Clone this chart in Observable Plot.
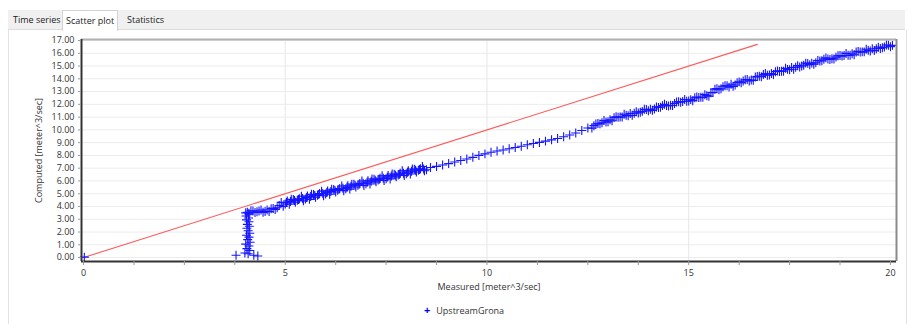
<!DOCTYPE html>
<html><head><meta charset="utf-8">
<script src="https://cdn.jsdelivr.net/npm/d3@7"></script>
<script src="https://cdn.jsdelivr.net/npm/@observablehq/plot@0.6"></script>
<style>
body{margin:0;width:914px;height:324px;background:#fff;font-family:"Open Sans",sans-serif;position:relative;overflow:hidden}
#strip{position:absolute;left:8px;top:10px;width:897px;height:19px;background:#f0f0f0;border-bottom:1px solid #dcdcdc}
.tab{position:absolute;top:12px;font-size:9px;color:#222;line-height:16px;padding:0 3px}
.tab.sel{top:10px;background:#fff;border:1px solid #d4d4d4;border-bottom:none;height:20px;line-height:20px}
#panel{position:absolute;left:8px;top:30px;width:897px;height:300px;border-left:1px solid #e2e2e2;border-right:1px solid #e2e2e2}
#chart{position:absolute;left:0;top:30px}
#legend{position:absolute;left:424px;top:302px;font-size:9px;color:#333;white-space:nowrap}
#legend .sym{color:#0000ff;font-size:11px;margin-right:6px;font-weight:bold}
</style></head>
<body>
<div id="strip"></div>
<div id="panel"></div>
<div class="tab" style="left:10px">Time series</div>
<div class="tab sel" style="left:62px">Scatter plot</div>
<div class="tab" style="left:124px">Statistics</div>
<div id="chart"></div>
<div id="legend"><span class="sym">+</span>UpstreamGrona</div>
<script>
// ---- data ----
const seriesName = "UpstreamGrona";
const measured = [
  0.02,
  3.78,4.32,4.22,4.0,4.08,4.12,4.05,4.1,4.02,4.13,4.07,4.1,4.04,4.12,4.08,4.05,4.11,4.06,4.1,4.04,4.09,4.03,4.1,4.02,4.06,
  4.1,4.2,4.3,4.4,4.5,4.6,4.7,4.8,4.9,5.0,5.1,5.2,5.3,5.4,5.5,5.6,5.7,5.8,5.9,6.0,6.1,6.2,6.3,6.4,6.5,6.6,6.7,6.8,6.9,7.0,7.1,7.2,7.3,7.4,7.5,7.6,7.7,7.8,7.9,8.0,8.1,8.2,8.3,8.4,8.5,
  4.15,4.25,4.35,4.45,4.55,4.65,4.75,4.85,4.95,5.05,5.15,5.25,5.35,5.45,5.55,5.65,5.75,5.85,5.95,6.05,6.15,6.25,6.35,6.45,6.55,6.65,6.75,6.85,6.95,7.05,7.15,7.25,7.35,7.45,7.55,7.65,7.75,7.85,7.95,8.05,8.15,8.25,8.35,8.45,
  5.03,5.13,5.23,5.33,5.43,5.53,5.63,5.73,5.83,5.93,6.03,6.13,6.23,6.33,6.43,6.53,6.63,6.73,6.83,6.93,7.03,7.13,7.23,7.33,7.43,7.53,7.63,7.73,7.83,7.93,8.03,8.13,8.23,8.33,8.43,
  8.6,8.75,8.9,9.05,9.2,9.35,9.5,9.65,9.8,9.95,10.1,10.25,10.4,10.55,10.7,10.85,11.0,11.15,11.3,11.45,11.6,11.75,11.9,12.05,12.2,12.35,12.5,
  12.6,12.7,12.8,12.9,13.0,13.1,13.2,13.3,13.4,13.5,13.6,13.7,13.8,13.9,14.0,14.1,14.2,14.3,14.4,14.5,14.6,14.7,14.8,14.9,15.0,15.1,15.2,15.3,15.4,15.5,
  15.6,15.7,15.8,15.9,16.0,16.1,16.2,16.3,16.4,16.5,16.6,16.7,16.8,16.9,17.0,17.1,17.2,17.3,17.4,17.5,17.6,17.7,17.8,17.9,18.0,18.1,18.2,18.3,18.4,18.5,
  18.6,18.7,18.8,18.9,19.0,19.1,19.2,19.3,19.4,19.5,19.6,19.7,19.8,19.9,20.0,20.05,
  12.65,12.85,13.05,13.25,13.45,13.65,13.85,14.05,14.25,14.45,14.65,14.85,15.05,15.25,15.45,15.65,15.85,16.05,16.25,16.45,16.65,16.85,17.05,17.25,17.45,17.65,17.85,18.05,18.25,18.45,18.65,18.85,19.05,19.25,19.45,19.65,19.85,
  12.75,12.95,13.15,13.35,13.55,13.75,13.95,14.15,14.35,14.55,14.75,14.95,15.15,15.35,15.55,15.75,15.95,16.15,16.35,16.55,16.75,16.95,17.15,17.35,17.55,17.75,17.95,18.15,18.35,18.55,18.75,18.95,19.15,19.35,19.55,19.75,19.95
];
const computed = [
  0.03,
  0.18,0.12,0.18,0.35,0.3,0.55,0.7,0.9,1.05,1.2,1.4,1.6,1.75,1.9,2.1,2.3,2.45,2.6,2.8,2.95,3.1,3.25,3.4,3.5,3.55,
  3.48,3.65,3.59,3.73,3.60,3.60,3.85,3.90,4.32,4.20,4.17,4.55,4.48,4.80,4.58,4.56,4.94,4.87,5.20,4.98,4.96,5.34,5.27,5.60,5.38,5.36,5.74,5.67,6.00,5.78,5.76,6.14,6.07,6.40,6.18,6.16,6.53,6.46,6.79,6.56,6.54,6.92,6.83,7.13,6.88,
  3.67,3.53,3.65,3.54,3.72,3.83,3.77,4.08,4.01,4.43,4.56,4.34,4.61,4.44,4.82,4.95,4.73,5.01,4.84,5.22,5.35,5.13,5.41,5.24,5.62,5.75,5.53,5.81,5.64,6.02,6.15,5.93,6.21,6.04,6.42,6.55,6.32,6.60,6.43,6.80,6.93,6.70,6.95,6.80,
  4.31,4.39,4.47,4.55,4.62,4.70,4.78,4.86,4.94,5.02,5.10,5.18,5.26,5.34,5.42,5.50,5.58,5.66,5.74,5.82,5.90,5.98,6.06,6.14,6.22,6.30,6.38,6.45,6.53,6.61,6.68,6.76,6.84,6.89,6.94,
  7.05,7.14,7.25,7.36,7.48,7.6,7.72,7.85,8.0,8.12,8.25,8.34,8.43,8.52,8.62,8.72,8.83,8.93,9.02,9.12,9.22,9.33,9.46,9.6,9.76,9.95,10.15,
  10.14,10.46,10.47,10.73,10.64,10.72,11.03,11.01,11.22,11.10,11.14,11.42,11.39,11.61,11.49,11.53,11.80,11.78,12.00,11.87,11.91,12.19,12.16,12.38,12.26,12.29,12.57,12.55,12.76,12.64,
  12.93,13.23,13.22,13.46,13.35,13.41,13.70,13.70,13.93,13.83,13.88,14.18,14.17,14.41,14.30,14.34,14.62,14.60,14.82,14.71,14.75,15.03,15.01,15.23,15.11,15.15,15.44,15.42,15.64,15.52,
  15.55,15.81,15.78,15.99,15.85,15.88,16.15,16.11,16.32,16.18,16.21,16.48,16.44,16.65,16.52,16.62,
  10.33,10.56,10.79,10.99,11.14,11.30,11.45,11.61,11.76,11.91,12.07,12.22,12.37,12.53,12.68,13.19,13.38,13.57,13.76,13.95,14.14,14.33,14.42,14.58,14.74,14.91,15.07,15.23,15.40,15.56,15.70,15.83,15.96,16.10,16.23,16.36,16.49,
  10.50,10.61,10.96,11.01,11.28,11.32,11.59,11.63,11.90,11.93,12.21,12.24,12.51,12.55,12.91,13.14,13.45,13.52,13.83,13.90,14.21,14.28,14.56,14.60,14.89,14.93,15.21,15.26,15.54,15.58,15.83,15.84,16.10,16.11,16.36,16.37,16.63
];
const refLineX = [0, 16.7];
const refLineY = [0, 16.7];
const yTicks = [0,1,2,3,4,5,6,7,8,9,10,11,12,13,14,15,16,17];
const xTicks = [0,5,10,15,20];
const xMinorTicks = [1.25,2.5,3.75,6.25,7.5,8.75,11.25,12.5,13.75,16.25,17.5,18.75];
const xGrid = [5,10,15];
const xTitle = "Measured [meter^3/sec]";
const yTitle = "Computed [meter^3/sec]";

// ---- build ----
const points = measured.map((x, i) => ({x, y: computed[i], series: seriesName}));
const refLine = refLineX.map((x, i) => ({x, y: refLineY[i]}));
const xDom = [-0.05, 20.15];
const yDom = [-0.31, 17.08];

const chart = Plot.plot({
  width: 914,
  height: 270,
  marginLeft: 81,
  marginRight: 18,
  marginTop: 9,
  marginBottom: 39,
  style: {background: "transparent", fontFamily: "'Open Sans', sans-serif", fontSize: "9px", color: "#333"},
  x: {domain: xDom},
  y: {domain: yDom},
  marks: [
    Plot.gridY(yTicks, {stroke: "#ececec", strokeOpacity: 1}),
    Plot.gridX(xGrid, {stroke: "#e6e6e6", strokeOpacity: 1}),
    Plot.line(refLine, {x: "x", y: "y", stroke: "#ff5a5a", strokeWidth: 1.1}),
    Plot.dot(points, {x: "x", y: "y", symbol: "plus", r: 3, stroke: "#1414ff", strokeWidth: 1.1, strokeOpacity: 1}),
    Plot.ruleY([yDom[1]], {stroke: "#b0b0b0", strokeWidth: 2}),
    Plot.ruleX([xDom[1]], {stroke: "#8a8a8a", strokeWidth: 2}),
    Plot.ruleX([xDom[0]], {stroke: "#333", strokeWidth: 2}),
    Plot.ruleY([yDom[0]], {stroke: "#333", strokeWidth: 2}),
    Plot.axisY(yTicks, {tickFormat: d3.format(".2f"), tickSize: 3, tickPadding: 4, stroke: "#999", fill: "#333", fontSize: 9, label: yTitle, labelAnchor: "center", labelOffset: 46, labelArrow: "none"}),
    Plot.axisX(xMinorTicks, {tickFormat: () => "", tickSize: 4, stroke: "#999", label: null}),
    Plot.axisX(xTicks, {tickFormat: d3.format("d"), tickSize: 4, tickPadding: 4, stroke: "#999", fill: "#333", fontSize: 9, label: xTitle, labelAnchor: "center", labelOffset: 28, labelArrow: "none"})
  ]
});
document.getElementById("chart").appendChild(chart);
</script>
</body></html>
